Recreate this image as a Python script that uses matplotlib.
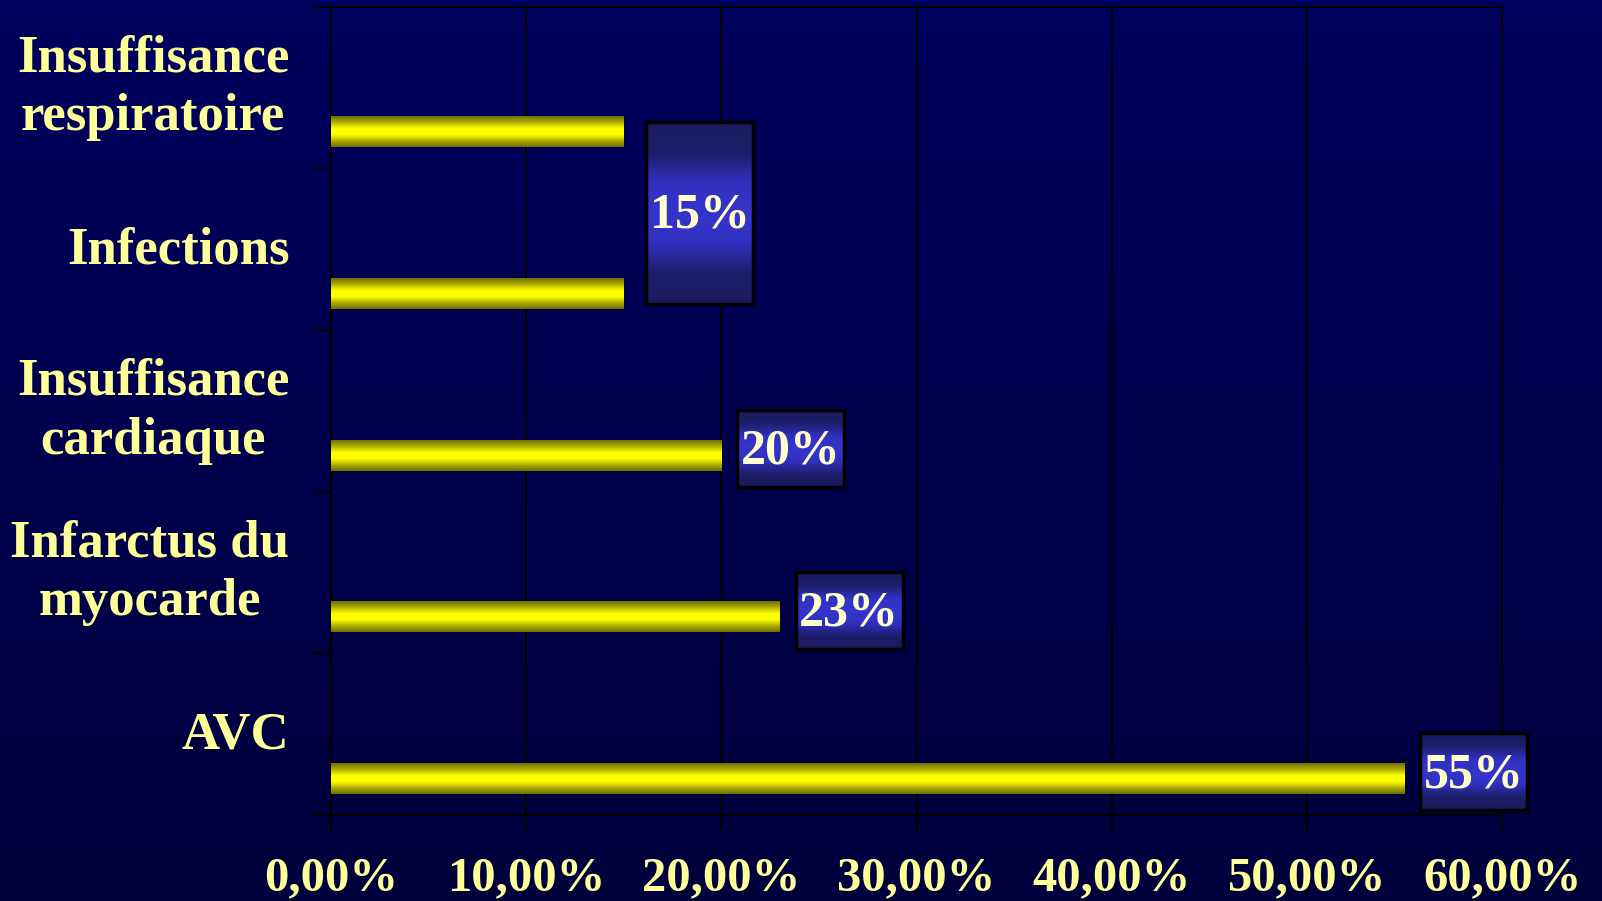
import numpy as np
import matplotlib.pyplot as plt
import matplotlib.transforms as mtransforms
from matplotlib.colors import LinearSegmentedColormap
from matplotlib.patches import Rectangle

# Causes de décès et parts correspondantes
causes = ["Insuffisance\nrespiratoire", "Infections", "Insuffisance\ncardiaque",
          "Infarctus du\nmyocarde", "AVC"]
parts = [0.15, 0.15, 0.20, 0.23, 0.55]
xticks = [0.0, 0.1, 0.2, 0.3, 0.4, 0.5, 0.6]
xtick_labels = ["0,00%", "10,00%", "20,00%", "30,00%", "40,00%", "50,00%", "60,00%"]

plt.rcParams['font.family'] = ['Liberation Serif', 'DejaVu Serif']
plt.rcParams['font.weight'] = 'bold'

txt_col = '#ffff99'
bg_cmap = LinearSegmentedColormap.from_list('bg', ['#00003c', '#00005e'])
bar_cmap = LinearSegmentedColormap.from_list(
    'bar', ['#707000', '#b0b000', '#ffff00', '#ffff00', '#b0b000', '#707000'])
box_cmap = LinearSegmentedColormap.from_list(
    'box', ['#1a1a5c', '#1e1e6c', '#3030c0', '#3535cc', '#3030c0', '#1e1e6c', '#1a1a5c'])

fig = plt.figure(figsize=(16.02, 9.01), dpi=100, facecolor='#00004c')

# fond en dégradé vertical
bg = fig.add_axes([0, 0, 1, 1], zorder=-10)
bg.axis('off')
bg.imshow(np.linspace(0, 1, 256).reshape(-1, 1), aspect='auto', cmap=bg_cmap,
          extent=[0, 1, 0, 1], origin='lower')

ax = fig.add_axes([0.2066, 0.0954, 0.731, 0.8968])
ax.set_facecolor('none')

ypos = np.arange(len(causes)) + 0.273
bars = ax.barh(ypos, parts, height=0.19, color='none', zorder=3)

# remplissage en dégradé des barres
grad = np.linspace(0, 1, 64).reshape(-1, 1)
for b in bars:
    x0, y0, w, h = b.get_x(), b.get_y(), b.get_width(), b.get_height()
    ax.imshow(grad, cmap=bar_cmap, aspect='auto', extent=[x0, x0 + w, y0 + h, y0],
              zorder=3, interpolation='bilinear')

# étiquettes de valeur (valeurs identiques consécutives regroupées)
groups = []
for i, v in enumerate(parts):
    if groups and parts[groups[-1][-1]] == v:
        groups[-1].append(i)
    else:
        groups.append([i])

box_w = 0.0548
gap = 0.0082
for g in groups:
    v = parts[g[0]]
    yc = np.mean(ypos[g]) - 0.04
    bh = 0.476 if len(g) == 1 else (ypos[g[-1]] - ypos[g[0]]) + 0.126
    if len(g) > 1:
        yc = np.mean(ypos[g])
    bx = v + gap if len(g) == 1 else v + 0.0115
    im = ax.imshow(grad, cmap=box_cmap, aspect='auto',
                   extent=[bx, bx + box_w, yc + bh / 2, yc - bh / 2],
                   zorder=4, interpolation='bilinear')
    im.set_clip_on(False)
    ax.add_patch(Rectangle((bx, yc - bh / 2), box_w, bh, fill=False,
                           edgecolor='black', lw=2.5, zorder=5, clip_on=False))
    ax.text(bx + box_w / 2, yc + 0.02, f"{v * 100:.0f}%", ha='center', va='center',
            fontsize=36, color='#ffffcc', zorder=6, clip_on=False)

ax.set_xlim(0, 0.6)
ax.set_ylim(len(causes) - 0.5, -0.5)

ax.set_xticks(xticks, xtick_labels)
ax.tick_params(axis='x', direction='out', length=10, width=1.5, color='black',
               pad=20, labelsize=35, labelcolor=txt_col)

ax.set_yticks(np.arange(len(causes) + 1) - 0.5, [''] * (len(causes) + 1))
ax.set_yticks(np.arange(len(causes)), causes, minor=True)
ax.tick_params(axis='y', which='major', direction='out', length=13, width=1.5,
               color='black')
ax.tick_params(axis='y', which='minor', length=0, pad=30, labelsize=38,
               labelcolor=txt_col)
for t in ax.get_yticklabels(minor=True):
    t.set_multialignment('center')
    t.set_linespacing(1.3)
    # remonter un peu les libellés (davantage pour ceux sur deux lignes)
    nl = t.get_text().count('\n')
    up = (3 + 5 * nl) / 72
    t.set_transform(t.get_transform() +
                    mtransforms.ScaledTranslation(0, up, fig.dpi_scale_trans))

ax.grid(axis='x', color='black', lw=1.5, zorder=1)
ax.set_axisbelow(True)
for s in ax.spines.values():
    s.set_color('black')
    s.set_linewidth(1.5)

fig.savefig('out.png', dpi=100, facecolor=fig.get_facecolor())
